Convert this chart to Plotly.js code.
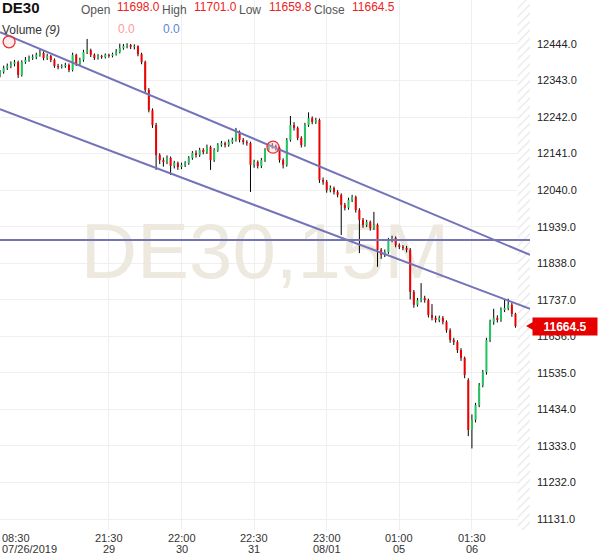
<!DOCTYPE html>
<html>
<head>
<meta charset="utf-8">
<script src="https://cdn.plot.ly/plotly-3.0.1.min.js"></script>
<style>html,body{margin:0;padding:0;background:#fff;}#chart{width:600px;height:558px;}</style>
</head>
<body>
<div id="chart"></div>
<script>
// ---- data (15-minute candles, DE30) ----
const opens = [12360,12367,12378,12383,12389,12394,12358,12394,12400,12405,
12408,12414,12419,12405,12411,12400,12383,12380,12383,12386,
12372,12414,12389,12400,12422,12427,12414,12405,12411,12408,
12414,12411,12416,12422,12433,12438,12441,12436,12438,12416,
12394,12317,12261,12220,12137,12123,12118,12129,12107,12115,
12104,12110,12115,12129,12143,12137,12151,12145,12159,12123,
12151,12165,12170,12165,12173,12179,12201,12179,12173,12170,
12110,12118,12107,12123,12151,12165,12162,12157,12123,12110,
12179,12220,12212,12184,12165,12220,12239,12228,12234,12068,
12063,12040,12046,12035,12027,11999,11991,12013,12021,11985,
11958,11944,11952,11935,11944,11875,11861,11869,11902,11908,
11888,11883,11880,11875,11759,11723,11736,11742,11736,11695,
11687,11681,11687,11676,11653,11626,11620,11598,11576,11515,
11377,11405,11446,11501,11537,11626,11676,11687,11681,11709,
11714,11723,11698.0];
const highs = [12372,12384,12390,12396,12400,12398,12399,12408,12412,12415,
12420,12428,12424,12417,12414,12404,12389,12388,12392,12390,
12420,12417,12406,12428,12458,12431,12418,12416,12414,12418,
12417,12420,12430,12445,12444,12446,12444,12443,12440,12420,
12398,12322,12266,12226,12142,12130,12136,12133,12121,12119,
12116,12120,12134,12148,12150,12157,12156,12166,12163,12156,
12170,12176,12174,12180,12185,12212,12205,12184,12178,12174,
12124,12122,12129,12156,12171,12170,12166,12160,12128,12184,
12245,12228,12216,12189,12226,12255,12244,12240,12238,12075,
12068,12053,12050,12040,12031,12005,12019,12027,12025,11990,
11963,11958,11956,11980,11948,11880,11876,11908,11914,11912,
11893,11888,11886,11880,11764,11742,11783,11748,11740,11725,
11693,11693,11692,11680,11658,11632,11625,11603,11580,11520,
11420,11452,11507,11543,11632,11682,11712,11694,11716,11738,
11740,11728,11701.0];
const lows = [12352,12362,12372,12377,12382,12350,12354,12389,12395,12400,
12402,12409,12399,12400,12394,12378,12374,12376,12378,12366,
12368,12383,12384,12395,12416,12408,12400,12401,12403,12404,
12406,12407,12412,12418,12428,12432,12430,12429,12410,12388,
12310,12255,12212,12096,12112,12105,12112,12082,12100,12096,
12098,12104,12110,12124,12130,12132,12139,12140,12096,12118,
12146,12160,12158,12160,12168,12174,12172,12166,12163,12035,
12102,12100,12101,12118,12146,12155,12150,12116,12100,12105,
12174,12205,12178,12158,12160,12215,12222,12223,12060,12055,
12033,12034,12028,12020,11916,11984,11986,12007,11978,11866,
11936,11938,11928,11930,11828,11850,11855,11864,11896,11882,
11877,11874,11868,11738,11715,11718,11730,11729,11688,11680,
11674,11675,11669,11646,11618,11612,11590,11568,11520,11360,
11326,11398,11440,11495,11530,11620,11668,11674,11676,11703,
11708,11690,11659.8];
const closes = [12367,12378,12383,12389,12394,12358,12394,12400,12405,12408,
12414,12419,12405,12411,12400,12383,12380,12383,12386,12372,
12414,12389,12400,12422,12427,12414,12405,12411,12408,12414,
12411,12416,12422,12433,12438,12441,12436,12438,12416,12394,
12317,12261,12220,12137,12123,12118,12129,12107,12115,12104,
12110,12115,12129,12143,12137,12151,12145,12159,12123,12151,
12165,12170,12165,12173,12179,12201,12179,12173,12170,12110,
12118,12107,12123,12151,12165,12162,12157,12123,12110,12179,
12220,12212,12184,12165,12220,12239,12228,12234,12068,12063,
12040,12046,12035,12027,11999,11991,12013,12021,11985,11958,
11944,11952,11935,11944,11875,11861,11869,11902,11908,11888,
11883,11880,11875,11759,11723,11736,11742,11736,11695,11687,
11681,11687,11676,11653,11626,11620,11598,11576,11529,11377,
11405,11446,11501,11537,11626,11676,11687,11681,11709,11714,
11723,11698,11664.5];

// price axis ticks
const priceTicks = [11131,11232,11333,11434,11535,11636,11737,11838,11939,12040,12141,12242,12343,12444];
// time axis ticks (candle index, two-line labels)
const timeTickIdx = [0,30,50,70,90,110,130];
const timeTickTop = ['08:30','21:30','22:00','22:30','23:00','01:00','01:30'];
const timeTickBottom = ['07/26/2019','29','30','31','08/01','05','06'];

// drawn trend lines (candle index, price)
const upperLineX = [0,146], upperLineY = [12477,11861];
const lowerLineX = [0,146], lowerLineY = [12264,11712];
const levelLineX = [0,146], levelLineY = [11902,11902];
const anchorX = [2.5,75.2], anchorY = [12450,12159];

// header info
const lastOpen = '11698.0', lastHigh = '11701.0', lastLow = '11659.8', lastClose = '11664.5';
const lastPrice = 11664.5;
const watermark = 'DE30,15M';

// ---- build traces ----
const font = 'Arial, "Liberation Sans", sans-serif';
const wx=[], wy=[], ux=[], uy=[], dx=[], dy=[];
for (let i=0;i<closes.length;i++){
  wx.push(i,i,null); wy.push(lows[i],highs[i],null);
  if (closes[i]>=opens[i]) { ux.push(i,i,null); uy.push(opens[i],closes[i],null); }
  else { dx.push(i,i,null); dy.push(opens[i],closes[i],null); }
}
const XMAX = 146, YMIN = 11100.6, YMAX = 12565.6;

const traces = [
  {type:'scatter',mode:'text',x:[73],y:[11852],text:[watermark],
   textfont:{family:font,size:78,color:'#eee9df'},hoverinfo:'skip',showlegend:false},
  {type:'scatter',mode:'lines',x:[142.6,150,150,142.6,142.6],y:[11000,11000,12700,12700,11000],fill:'toself',
   fillcolor:'#ffffff',fillpattern:{shape:'/',fgcolor:'#e8e8e8',bgcolor:'#ffffff',size:6,solidity:0.22,fillmode:'replace'},
   line:{width:0},hoverinfo:'skip',showlegend:false},
  {type:'scatter',mode:'lines',x:wx,y:wy,line:{color:'#000',width:1},hoverinfo:'skip',showlegend:false},
  {type:'scatter',mode:'lines',x:ux,y:uy,line:{color:'#22c55e',width:2},hoverinfo:'skip',showlegend:false},
  {type:'scatter',mode:'lines',x:dx,y:dy,line:{color:'#ee0000',width:2},hoverinfo:'skip',showlegend:false},
  {type:'scatter',mode:'lines',x:upperLineX,y:upperLineY,line:{color:'#7373b9',width:2},hoverinfo:'skip',showlegend:false},
  {type:'scatter',mode:'lines',x:lowerLineX,y:lowerLineY,line:{color:'#7373b9',width:2},hoverinfo:'skip',showlegend:false},
  {type:'scatter',mode:'lines',x:levelLineX,y:levelLineY,line:{color:'#7373b9',width:2},hoverinfo:'skip',showlegend:false},
  {type:'scatter',mode:'markers',x:anchorX,y:anchorY,
   marker:{symbol:'circle',size:12,color:'rgba(255,200,200,0.35)',line:{color:'#e83030',width:1.3}},hoverinfo:'skip',showlegend:false}
];

// ---- annotations ----
const PW = 530, PH = 530;
const px = v => v/PW, py = v => 1 - v/PH;
const ann = [];
function txt(t,x,y,color,size,extra){
  ann.push(Object.assign({text:t,xref:'paper',yref:'paper',x:px(x),y:py(y),xanchor:'left',yanchor:'middle',
    showarrow:false,font:{family:font,size:size,color:color}},extra||{}));
}
txt('<b>DE30</b>',0,8,'#111',15);
txt('Open',79,9.5,'#555',12);
txt(lastOpen,115,7,'#ee2222',12);
txt('High',160,9.5,'#555',12);
txt(lastHigh,192,7,'#ee2222',12);
txt('Low',237,9.5,'#555',12);
txt(lastLow,267,7,'#ee2222',12);
txt('Close',312,9.5,'#555',12);
txt(lastClose,350,7,'#ee2222',12);
txt('Volume <i>(9)</i>',0,30,'#333',12);
txt('0.0',116,29,'#ff9a9a',12);
txt('0.0',161,29,'#5b86d6',12);

for (let k=0;k<timeTickIdx.length;k++){
  const anchor = k===0 ? 'left':'center';
  ann.push({text:timeTickTop[k],xref:'x',yref:'paper',x:timeTickIdx[k],y:py(538),xanchor:anchor,yanchor:'middle',
    showarrow:false,font:{family:font,size:11,color:'#333'}});
  ann.push({text:timeTickBottom[k],xref:'x',yref:'paper',x:timeTickIdx[k],y:py(549),xanchor:anchor,yanchor:'middle',
    showarrow:false,font:{family:font,size:11,color:'#333'}});
}
// last price tag
ann.push({text:'<b>'+lastPrice.toFixed(1)+'</b>',xref:'paper',yref:'y',x:px(532),y:lastPrice,xanchor:'left',yanchor:'middle',
  showarrow:false,bgcolor:'#e60000',width:62,height:15,borderpad:1,font:{family:font,size:12,color:'#fff'}});

const shapes = [
  {type:'path',xref:'paper',yref:'y',layer:'above',line:{width:0},fillcolor:'#e60000',
   path:'M '+px(526)+','+lastPrice+' L '+px(533)+','+(lastPrice+11)+' L '+px(533)+','+(lastPrice-11)+' Z'}
];

const layout = {
  width:600,height:558,margin:{l:0,r:70,t:0,b:28},
  paper_bgcolor:'#fff',plot_bgcolor:'#fff',showlegend:false,
  xaxis:{range:[0,XMAX],tickvals:timeTickIdx.slice(1),showticklabels:false,showgrid:true,gridcolor:'#efefef',
    zeroline:false,showline:false,ticks:'',fixedrange:true},
  yaxis:{side:'right',range:[YMIN,YMAX],tickvals:priceTicks,ticktext:priceTicks.map(v=>v.toFixed(1)),
    showgrid:true,gridcolor:'#efefef',zeroline:false,showline:false,ticks:'',ticklabelstandoff:6,
    tickfont:{family:font,size:11,color:'#222'},fixedrange:true},
  annotations:ann,shapes:shapes,hovermode:false
};
Plotly.newPlot('chart',traces,layout,{displayModeBar:false,staticPlot:true});
</script>
</body>
</html>
